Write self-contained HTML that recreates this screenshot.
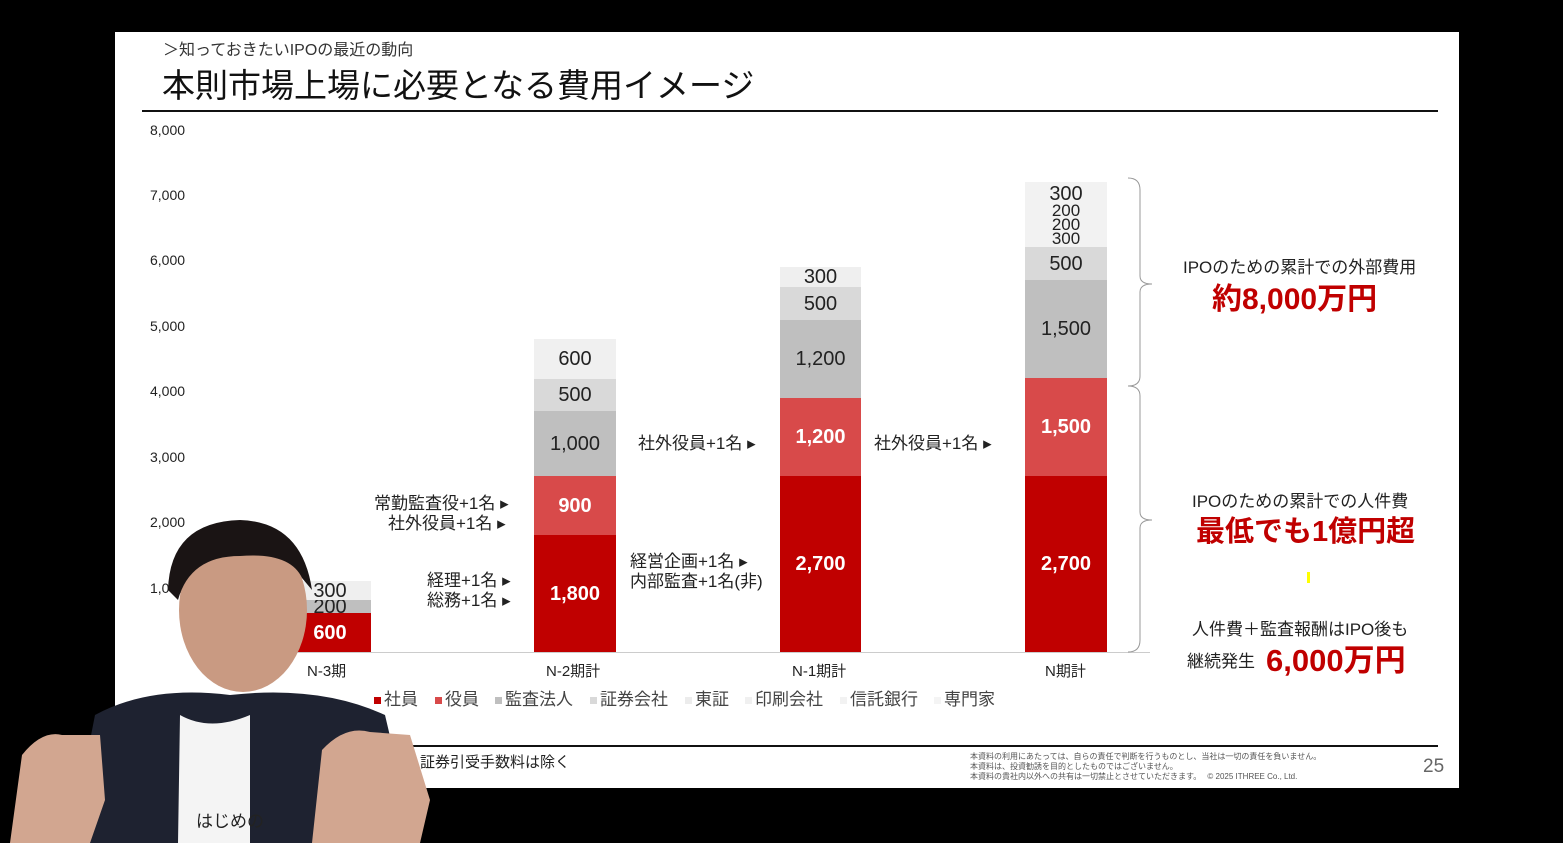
<!DOCTYPE html>
<html><head><meta charset="utf-8"><style>
*{margin:0;padding:0;box-sizing:border-box}
body{width:1563px;height:843px;background:#000;position:relative;overflow:hidden;font-family:"Liberation Sans","Noto Sans CJK JP",sans-serif;color:#222}
.a{position:absolute}
.seg{position:absolute;display:flex;align-items:center;justify-content:center;font-size:20px;line-height:1}
.w{color:#fff;font-weight:bold}
.yl{position:absolute;left:150px;font-size:14px;color:#222}
.t{position:absolute;font-size:17px;white-space:nowrap}
.lg{position:absolute;top:685px;font-size:17px;color:#444;white-space:nowrap}
.lg i{display:inline-block;width:7px;height:7px;margin-right:3px;vertical-align:middle}
</style></head><body>
<div class="a" style="left:115px;top:32px;width:1344px;height:756px;background:#fff"></div>
<div class="t" style="left:163px;top:36px;font-size:16px;color:#333">＞知っておきたいIPOの最近の動向</div>
<div class="t" style="left:162px;top:59px;font-size:33px;color:#111">本則市場上場に必要となる費用イメージ</div>
<div class="a" style="left:142px;top:110px;width:1296px;height:2px;background:#111"></div>

<div class="yl" style="top:122px">8,000</div>
<div class="yl" style="top:187px">7,000</div>
<div class="yl" style="top:252px">6,000</div>
<div class="yl" style="top:318px">5,000</div>
<div class="yl" style="top:383px">4,000</div>
<div class="yl" style="top:449px">3,000</div>
<div class="yl" style="top:514px">2,000</div>
<div class="yl" style="top:580px">1,000</div>
<div class="a" style="left:200px;top:652px;width:950px;height:1px;background:#ccc"></div>

<div class="seg w" style="left:289px;top:613px;width:82px;height:39px;background:#c00000">600</div>
<div class="seg" style="left:289px;top:600px;width:82px;height:13px;background:#bfbfbf">200</div>
<div class="seg" style="left:289px;top:581px;width:82px;height:19px;background:#efefef">300</div>

<div class="seg w" style="left:534px;top:535px;width:82px;height:117px;background:#c00000">1,800</div>
<div class="seg w" style="left:534px;top:476px;width:82px;height:59px;background:#d84a4a">900</div>
<div class="seg" style="left:534px;top:411px;width:82px;height:65px;background:#bfbfbf">1,000</div>
<div class="seg" style="left:534px;top:379px;width:82px;height:32px;background:#d9d9d9">500</div>
<div class="seg" style="left:534px;top:339px;width:82px;height:40px;background:#f0f0f0">600</div>

<div class="seg w" style="left:780px;top:476px;width:81px;height:176px;background:#c00000">2,700</div>
<div class="seg w" style="left:780px;top:398px;width:81px;height:78px;background:#d84a4a">1,200</div>
<div class="seg" style="left:780px;top:320px;width:81px;height:78px;background:#bfbfbf">1,200</div>
<div class="seg" style="left:780px;top:287px;width:81px;height:33px;background:#d9d9d9">500</div>
<div class="seg" style="left:780px;top:267px;width:81px;height:20px;background:#efefef">300</div>

<div class="seg w" style="left:1025px;top:476px;width:82px;height:176px;background:#c00000">2,700</div>
<div class="seg w" style="left:1025px;top:378px;width:82px;height:98px;background:#d84a4a">1,500</div>
<div class="seg" style="left:1025px;top:280px;width:82px;height:98px;background:#bfbfbf">1,500</div>
<div class="seg" style="left:1025px;top:247px;width:82px;height:33px;background:#d9d9d9">500</div>
<div class="seg" style="left:1025px;top:182px;width:82px;height:65px;background:#f2f2f2;flex-direction:column;font-size:17px;line-height:14px;padding-top:2px">
<span style="font-size:20px;line-height:19px">300</span><span>200</span><span>200</span><span>300</span></div>

<div class="t" style="left:374px;top:489px">常勤監査役+1名 ▸</div>
<div class="t" style="left:388px;top:509px">社外役員+1名 ▸</div>
<div class="t" style="left:427px;top:566px">経理+1名 ▸</div>
<div class="t" style="left:427px;top:586px">総務+1名 ▸</div>
<div class="t" style="left:638px;top:429px">社外役員+1名 ▸</div>
<div class="t" style="left:630px;top:547px">経営企画+1名 ▸</div>
<div class="t" style="left:630px;top:567px">内部監査+1名(非)</div>
<div class="t" style="left:874px;top:429px">社外役員+1名 ▸</div>

<div class="t" style="left:307px;top:660px;font-size:15px">N-3期</div>
<div class="t" style="left:546px;top:660px;font-size:15px">N-2期計</div>
<div class="t" style="left:792px;top:660px;font-size:15px">N-1期計</div>
<div class="t" style="left:1045px;top:660px;font-size:15px">N期計</div>

<div class="lg" style="left:374px"><i style="background:#c00000"></i>社員</div>
<div class="lg" style="left:435px"><i style="background:#d84a4a"></i>役員</div>
<div class="lg" style="left:495px"><i style="background:#bfbfbf"></i>監査法人</div>
<div class="lg" style="left:590px"><i style="background:#d9d9d9"></i>証券会社</div>
<div class="lg" style="left:685px"><i style="background:#ececec"></i>東証</div>
<div class="lg" style="left:745px"><i style="background:#f0f0f0"></i>印刷会社</div>
<div class="lg" style="left:840px"><i style="background:#f2f2f2"></i>信託銀行</div>
<div class="lg" style="left:934px"><i style="background:#f4f4f4"></i>専門家</div>

<svg class="a" style="left:1120px;top:170px" width="40" height="490"><path d="M8 8 Q20 8 20 20 V106 Q20 114 32 114 Q20 114 20 122 V206 Q20 216 8 216 Q20 216 20 226 V342 Q20 350 32 350 Q20 350 20 358 V470 Q20 482 8 482" fill="none" stroke="#999" stroke-width="1"/></svg>

<div class="t" style="left:1183px;top:253px;font-size:17px">IPOのための累計での外部費用</div>
<div class="t" style="left:1212px;top:274px;font-size:30px;color:#c00000;font-weight:bold">約8,000万円</div>
<div class="t" style="left:1192px;top:487px;font-size:17px">IPOのための累計での人件費</div>
<div class="t" style="left:1196px;top:508px;font-size:29px;color:#c00000;font-weight:bold">最低でも1億円超</div>
<div class="a" style="left:1307px;top:572px;width:3px;height:11px;background:#ff0"></div>
<div class="t" style="left:1192px;top:615px;font-size:17px">人件費＋監査報酬はIPO後も</div>
<div class="t" style="left:1187px;top:647px;font-size:17px">継続発生</div>
<div class="t" style="left:1266px;top:635px;font-size:31px;color:#c00000;font-weight:bold">6,000万円</div>

<div class="a" style="left:142px;top:745px;width:1296px;height:2px;background:#111"></div>
<div class="t" style="left:420px;top:751px;font-size:15px">証券引受手数料は除く</div>
<div class="a" style="left:970px;top:752px;font-size:8px;line-height:10px;color:#555;white-space:nowrap">本資料の利用にあたっては、自らの責任で判断を行うものとし、当社は一切の責任を負いません。<br>本資料は、投資勧誘を目的としたものではございません。<br>本資料の貴社内以外への共有は一切禁止とさせていただきます。　 ©  2025  ITHREE Co., Ltd.</div>
<div class="t" style="left:1423px;top:756px;font-size:19px;color:#666">25</div>

<svg class="a" style="left:0;top:500px" width="460" height="343">
<path d="M70 343 L95 215 Q150 185 230 195 Q320 185 385 215 L415 343 Z" fill="#1e2230"/>
<path d="M178 343 L180 215 Q210 232 250 215 L250 343 Z" fill="#f4f4f4"/>
<ellipse cx="243" cy="110" rx="64" ry="82" fill="#c99a82"/>
<path d="M168 90 Q170 22 240 20 Q302 22 312 90 L302 78 Q290 52 240 56 Q190 56 178 100 Z" fill="#1a1414"/>
<path d="M10 343 L22 255 Q42 230 62 235 L100 235 L105 300 L90 343 Z" fill="#d2a690"/>
<path d="M312 343 L322 250 Q345 225 370 232 L410 235 L430 300 L420 343 Z" fill="#d2a690"/>
<text x="196" y="327" font-size="17" fill="#222" font-family="Liberation Sans,Noto Sans CJK JP,sans-serif">はじめの</text>
</svg>
</body></html>
